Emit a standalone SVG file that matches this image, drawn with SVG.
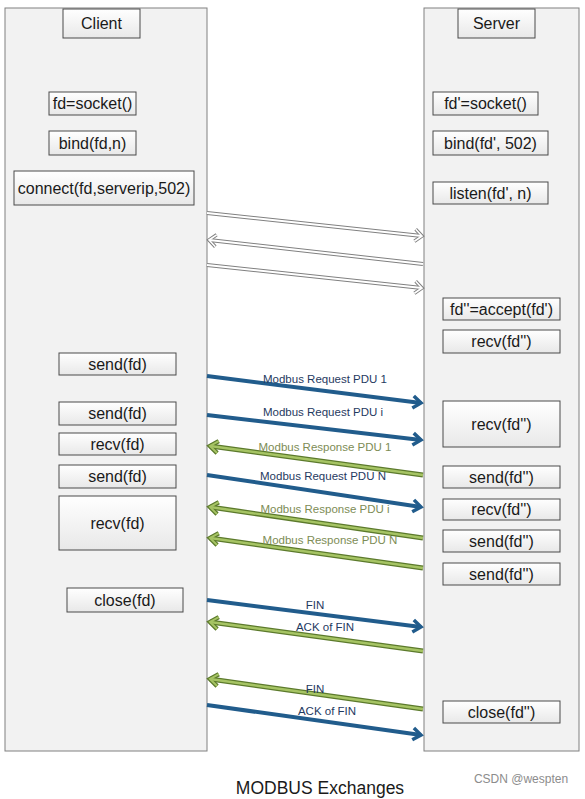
<svg xmlns="http://www.w3.org/2000/svg" width="585" height="799" viewBox="0 0 585 799">
<style>
.panel{fill:#f2f2f2;stroke:#808080;stroke-width:1}
.box{fill:url(#bg);stroke:#4a4a4a;stroke-width:1}
.bt{font-family:"Liberation Sans",Arial,sans-serif;font-size:16px;fill:#1a1a1a;text-anchor:middle}
.lb{font-family:"Liberation Sans",Arial,sans-serif;font-size:11.5px;text-anchor:middle}
.lblue{fill:#1f3a5f}
.lgreen{fill:#7d8c55}
.blue{stroke:#215c8c;stroke-width:4;fill:none;marker-end:url(#mb)}
.gout{stroke:#5c7a2c;stroke-width:5;fill:none;marker-end:url(#mgo)}
.gin{stroke:#a6c464;stroke-width:2.4;fill:none;marker-end:url(#mgi)}
.wout{stroke:#808080;stroke-width:4;fill:none;marker-end:url(#mwo)}
.win{stroke:#ffffff;stroke-width:2;fill:none;marker-end:url(#mwi)}
</style>
<defs>
<linearGradient id="bg" x1="0" y1="0" x2="0" y2="1">
<stop offset="0" stop-color="#ffffff"/>
<stop offset="1" stop-color="#e8e8e8"/>
</linearGradient>
<marker id="mb" markerUnits="userSpaceOnUse" markerWidth="20" markerHeight="20" orient="auto" overflow="visible" refX="0" refY="0">
<path d="M-8,-6 L0,0 L-8,6" fill="none" stroke="#215c8c" stroke-width="3.5" stroke-linejoin="miter"/>
</marker>
<marker id="mgo" markerUnits="userSpaceOnUse" markerWidth="20" markerHeight="20" orient="auto" overflow="visible" refX="0" refY="0">
<path d="M-8,-6 L0,0 L-8,6" fill="none" stroke="#5c7a2c" stroke-width="4.5" stroke-linejoin="miter"/>
</marker>
<marker id="mgi" markerUnits="userSpaceOnUse" markerWidth="20" markerHeight="20" orient="auto" overflow="visible" refX="0" refY="0">
<path d="M-8,-6 L0,0 L-8,6" fill="none" stroke="#a6c464" stroke-width="2" stroke-linejoin="miter"/>
</marker>
<marker id="mwo" markerUnits="userSpaceOnUse" markerWidth="20" markerHeight="20" orient="auto" overflow="visible" refX="0" refY="0">
<path d="M-7,-6 L0,0 L-7,6" fill="none" stroke="#808080" stroke-width="3.5" stroke-linejoin="miter"/>
</marker>
<marker id="mwi" markerUnits="userSpaceOnUse" markerWidth="20" markerHeight="20" orient="auto" overflow="visible" refX="0" refY="0">
<path d="M-7,-6 L0,0 L-7,6" fill="none" stroke="#ffffff" stroke-width="1.6" stroke-linejoin="miter"/>
</marker>
</defs>
<rect width="585" height="799" fill="#ffffff"/>

<g id="client-panel"><rect class="panel" x="5" y="8" width="202" height="743"/></g>
<g id="server-panel"><rect class="panel" x="424" y="8" width="155" height="743"/></g>

<g id="client"><rect class="box" x="63" y="9" width="77" height="29"/><text class="bt" x="101.5" y="29">Client</text></g>
<g id="server"><rect class="box" x="458" y="9" width="77" height="29"/><text class="bt" x="496.5" y="29">Server</text></g>

<g id="c-socket"><rect class="box" x="49" y="92" width="87" height="23"/><text class="bt" x="92.5" y="109">fd=socket()</text></g>
<g id="c-bind"><rect class="box" x="49" y="131" width="87" height="24"/><text class="bt" x="92.5" y="148.5">bind(fd,n)</text></g>
<g id="c-connect"><rect class="box" x="14" y="171" width="180" height="34"/><text class="bt" x="104" y="193.5">connect(fd,serverip,502)</text></g>
<g id="c-send1"><rect class="box" x="59" y="353" width="117" height="22"/><text class="bt" x="117.5" y="369.5">send(fd)</text></g>
<g id="c-send2"><rect class="box" x="59" y="402" width="117" height="23"/><text class="bt" x="117.5" y="419">send(fd)</text></g>
<g id="c-recv1"><rect class="box" x="59" y="433" width="117" height="22"/><text class="bt" x="117.5" y="449.5">recv(fd)</text></g>
<g id="c-send3"><rect class="box" x="59" y="465" width="117" height="23"/><text class="bt" x="117.5" y="482">send(fd)</text></g>
<g id="c-recv2"><rect class="box" x="59" y="496" width="117" height="54"/><text class="bt" x="117.5" y="528.5">recv(fd)</text></g>
<g id="c-close"><rect class="box" x="67" y="588" width="116" height="24"/><text class="bt" x="125" y="605.5">close(fd)</text></g>

<g id="s-socket"><rect class="box" x="433" y="92" width="105" height="23"/><text class="bt" x="485.5" y="109">fd'=socket()</text></g>
<g id="s-bind"><rect class="box" x="433" y="131" width="115" height="24"/><text class="bt" x="490.5" y="148.5">bind(fd', 502)</text></g>
<g id="s-listen"><rect class="box" x="433" y="182" width="115" height="22"/><text class="bt" x="490.5" y="198.5">listen(fd', n)</text></g>
<g id="s-accept"><rect class="box" x="443" y="298" width="117" height="22"/><text class="bt" x="501.5" y="314.5">fd''=accept(fd')</text></g>
<g id="s-recv1"><rect class="box" x="443" y="330" width="117" height="23"/><text class="bt" x="501.5" y="347">recv(fd'')</text></g>
<g id="s-recv2"><rect class="box" x="443" y="401" width="117" height="46"/><text class="bt" x="501.5" y="429.5">recv(fd'')</text></g>
<g id="s-send1"><rect class="box" x="443" y="466" width="117" height="22"/><text class="bt" x="501.5" y="482.5">send(fd'')</text></g>
<g id="s-recv3"><rect class="box" x="443" y="499" width="117" height="21"/><text class="bt" x="501.5" y="515">recv(fd'')</text></g>
<g id="s-send2"><rect class="box" x="443" y="530" width="117" height="22"/><text class="bt" x="501.5" y="546.5">send(fd'')</text></g>
<g id="s-send3"><rect class="box" x="443" y="563" width="117" height="22"/><text class="bt" x="501.5" y="579.5">send(fd'')</text></g>
<g id="s-close"><rect class="box" x="443" y="701" width="117" height="22"/><text class="bt" x="501.5" y="717.5">close(fd'')</text></g>

<g id="connectors">
<line class="wout" x1="207" y1="213" x2="422" y2="236"/>
<line class="win" x1="207" y1="213" x2="422" y2="236"/>
<line class="wout" x1="423" y1="264" x2="209" y2="240"/>
<line class="win" x1="423" y1="264" x2="209" y2="240"/>
<line class="wout" x1="207" y1="265" x2="422" y2="288"/>
<line class="win" x1="207" y1="265" x2="422" y2="288"/>

<line class="blue" x1="207" y1="376" x2="421" y2="403"/>
<line class="blue" x1="207" y1="415" x2="421" y2="440"/>
<line class="gout" x1="423" y1="475" x2="210" y2="446"/>
<line class="gin" x1="423" y1="475" x2="210" y2="446"/>
<line class="blue" x1="207" y1="475" x2="421" y2="507"/>
<line class="gout" x1="423" y1="538" x2="210" y2="507"/>
<line class="gin" x1="423" y1="538" x2="210" y2="507"/>
<line class="gout" x1="423" y1="568" x2="210" y2="538"/>
<line class="gin" x1="423" y1="568" x2="210" y2="538"/>

<line class="blue" x1="207" y1="600" x2="421" y2="627"/>
<line class="gout" x1="423" y1="651" x2="210" y2="622"/>
<line class="gin" x1="423" y1="651" x2="210" y2="622"/>
<line class="gout" x1="423" y1="709" x2="210" y2="679"/>
<line class="gin" x1="423" y1="709" x2="210" y2="679"/>
<line class="blue" x1="207" y1="705" x2="421" y2="735"/>

<text class="lb lblue" x="325" y="383">Modbus Request PDU 1</text>
<text class="lb lblue" x="323" y="416">Modbus Request PDU i</text>
<text class="lb lgreen" x="325" y="451">Modbus Response PDU 1</text>
<text class="lb lblue" x="323" y="480">Modbus Request PDU N</text>
<text class="lb lgreen" x="325" y="513">Modbus Response PDU i</text>
<text class="lb lgreen" x="330" y="544">Modbus Response PDU N</text>
<text class="lb lblue" x="315" y="609">FIN</text>
<text class="lb lblue" x="325" y="631">ACK of FIN</text>
<text class="lb lblue" x="315" y="693">FIN</text>
<text class="lb lblue" x="327" y="715">ACK of FIN</text>
</g>

<text x="320" y="794" font-family="'Liberation Sans',Arial,sans-serif" font-size="17.5" fill="#1a1a1a" text-anchor="middle">MODBUS Exchanges</text>
<text x="521" y="783" font-family="'Liberation Sans',Arial,sans-serif" font-size="12" fill="#8c8c8c" text-anchor="middle">CSDN @wespten</text>
</svg>
